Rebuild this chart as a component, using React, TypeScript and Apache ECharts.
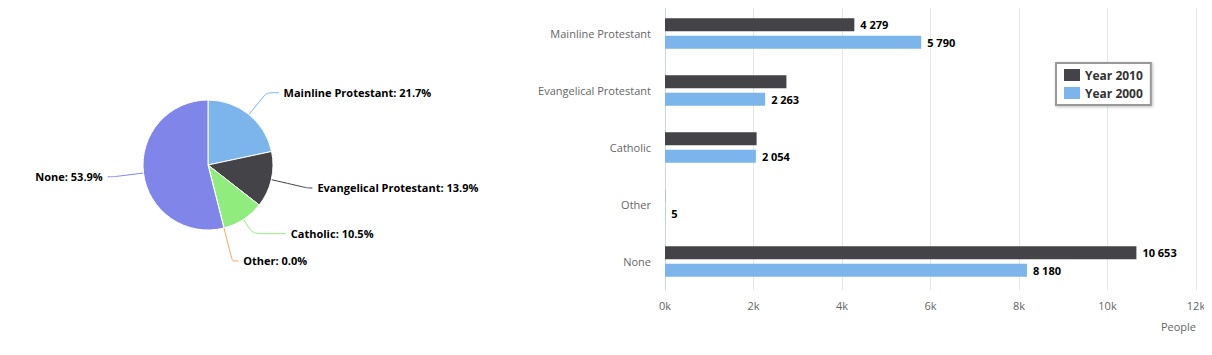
import React, { useEffect, useRef } from "react";
import * as echarts from "echarts";

const categories = ["Mainline Protestant", "Evangelical Protestant", "Catholic", "Other", "None"];
const year2010 = [4279, 2744, 2070, 3, 10653];
const year2000 = [5790, 2263, 2054, 5, 8180];
const hidden2010Labels = [1, 2, 3];
const seriesNames = ["Year 2010", "Year 2000"];
const pieColors = ["#7cb5ec", "#434348", "#90ed7d", "#f7a35c", "#8085e9"];
const barColors = ["#434348", "#7cb5ec"];
const axisMin = 0;
const axisMax = 12000;
const axisInterval = 2000;
// connector lengths for the pie labels (first and second segment)
const pieLineLen = [28, 37, 17, 34, 30];
const pieLineLen2 = [12, 5, 33, 6, 6];

const FONT = "'Open Sans', sans-serif";

const fmt = (n: number) => String(n).replace(/\B(?=(\d{3})+(?!\d))/g, " ");
const total2010 = year2010.reduce((a, b) => a + b, 0);

export default function App() {
  const ref = useRef<HTMLDivElement>(null);
  useEffect(() => {
    if (!ref.current) return;
    const chart = echarts.init(ref.current, undefined, { renderer: "svg" });
    const valueLabel = {
      show: true,
      position: "right",
      distance: 6,
      color: "#000",
      fontWeight: "bold",
      fontSize: 11,
      fontFamily: FONT,
      formatter: (p: any) => fmt(p.value),
    };
    chart.setOption({
      animation: false,
      textStyle: { fontFamily: FONT },
      legend: {
        data: seriesNames,
        orient: "vertical",
        left: 1056,
        top: 63,
        padding: [6, 8],
        itemWidth: 16,
        itemHeight: 12,
        itemGap: 6,
        icon: "rect",
        borderColor: "#999",
        borderWidth: 2,
        backgroundColor: "#fff",
        shadowColor: "rgba(0,0,0,0.25)",
        shadowBlur: 3,
        shadowOffsetX: 1,
        shadowOffsetY: 1,
        textStyle: { color: "#333", fontWeight: "bold", fontSize: 12, fontFamily: FONT },
      },
      grid: { left: 665, right: 16, top: 5, bottom: 65, containLabel: false },
      xAxis: {
        type: "value",
        min: axisMin,
        max: axisMax,
        interval: axisInterval,
        axisLine: { show: false },
        axisTick: { show: false },
        splitLine: { lineStyle: { color: "#e6e6e6" } },
        axisLabel: {
          color: "#666",
          fontSize: 11,
          margin: 10,
          fontFamily: FONT,
          formatter: (v: number) => v / 1000 + "k",
        },
        name: "People",
        nameLocation: "end",
        nameGap: 0,
        nameTextStyle: {
          color: "#666",
          fontSize: 11,
          fontFamily: FONT,
          align: "right",
          verticalAlign: "top",
          padding: [31, 0, 0, 0],
        },
      },
      yAxis: {
        type: "category",
        data: categories,
        inverse: true,
        axisLine: { lineStyle: { color: "#ccd6eb" } },
        axisTick: { length: 10, lineStyle: { color: "#ccd6eb" } },
        axisLabel: { color: "#666", fontSize: 11, margin: 14, fontFamily: FONT },
        splitLine: { show: false },
      },
      series: [
        {
          type: "bar",
          name: seriesNames[0],
          data: year2010.map((v, i) => ({
            value: v,
            label: hidden2010Labels.includes(i) ? { show: false } : undefined,
          })),
          itemStyle: { color: barColors[0] },
          barWidth: 13,
          barGap: "35%",
          label: valueLabel,
        },
        {
          type: "bar",
          name: seriesNames[1],
          data: year2000,
          itemStyle: { color: barColors[1] },
          barWidth: 13,
          barGap: "35%",
          label: valueLabel,
        },
        {
          type: "pie",
          center: [208, 165],
          radius: 65,
          startAngle: 90,
          clockwise: true,
          avoidLabelOverlap: false,
          data: categories.map((c, i) => ({
            name: c,
            value: year2010[i],
            itemStyle: { color: pieColors[i] },
            labelLine: { length: pieLineLen[i], length2: pieLineLen2[i] },
          })),
          itemStyle: { borderColor: "#fff", borderWidth: 1 },
          label: {
            show: true,
            position: "outside",
            formatter: (p: any) => `${p.name}: ${((p.value / total2010) * 100).toFixed(1)}%`,
            color: "#000",
            fontWeight: "bold",
            fontSize: 11,
            fontFamily: FONT,
          },
          labelLine: { show: true, smooth: 0.2, lineStyle: { width: 1 } },
          emphasis: { disabled: true },
        },
      ],
    });
    return () => chart.dispose();
  }, []);
  return <div ref={ref} style={{ width: 1212, height: 355, margin: -8 }} />;
}
